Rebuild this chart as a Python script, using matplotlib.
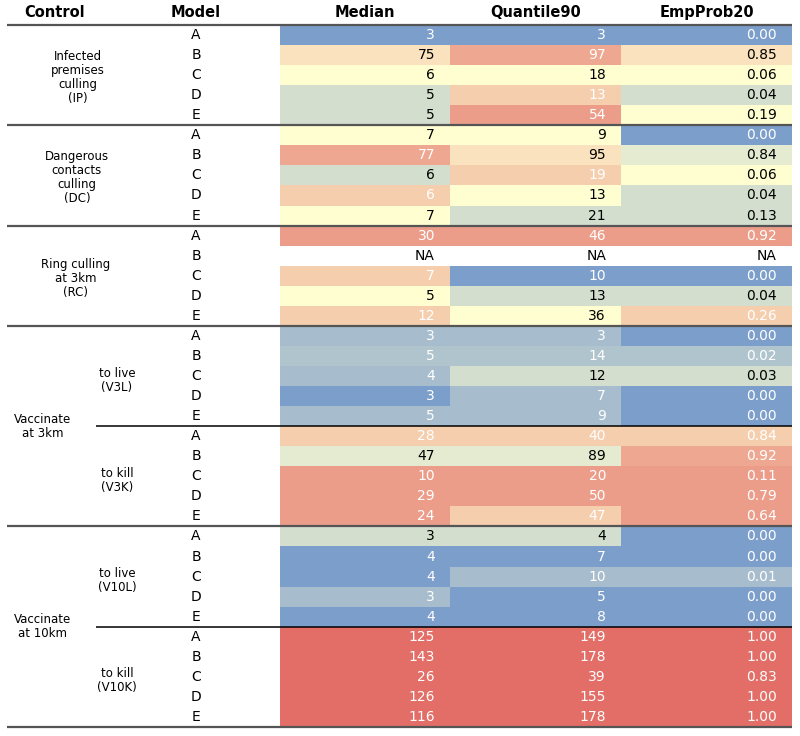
import numpy as np
import pandas as pd
import matplotlib
matplotlib.use('Agg')
import matplotlib.pyplot as plt
from matplotlib.colors import LinearSegmentedColormap

nan = np.nan

# row order: IP, DC, RC, V3L, V3K, V10L, V10K; models A-E in each
controls = ['IP'] * 5 + ['DC'] * 5 + ['RC'] * 5 + ['V3L'] * 5 + ['V3K'] * 5 + ['V10L'] * 5 + ['V10K'] * 5
models = ['A', 'B', 'C', 'D', 'E'] * 7

median = [3, 75, 6, 5, 5,
          7, 77, 6, 6, 7,
          30, nan, 7, 5, 12,
          3, 5, 4, 3, 5,
          28, 47, 10, 29, 24,
          3, 4, 4, 3, 4,
          125, 143, 26, 126, 116]
quantile90 = [3, 97, 18, 13, 54,
              9, 95, 19, 13, 21,
              46, nan, 10, 13, 36,
              3, 14, 12, 7, 9,
              40, 89, 20, 50, 47,
              4, 7, 10, 5, 8,
              149, 178, 39, 155, 178]
empprob20 = [0.00, 0.85, 0.06, 0.04, 0.19,
             0.00, 0.84, 0.06, 0.04, 0.13,
             0.92, nan, 0.00, 0.04, 0.26,
             0.00, 0.02, 0.03, 0.00, 0.00,
             0.84, 0.92, 0.11, 0.79, 0.64,
             0.00, 0.00, 0.01, 0.00, 0.00,
             1.00, 1.00, 0.83, 1.00, 1.00]

median_rank = [1, 4, 4, 3, 3,
               4, 5, 3, 5, 4,
               6, nan, 5, 4, 5,
               2, 2, 2, 1, 2,
               5, 3, 6, 6, 6,
               3, 1, 1, 2, 1,
               7, 6, 7, 7, 7]
q90_rank = [1, 5, 4, 5, 6,
            4, 4, 5, 4, 3,
            6, nan, 1, 3, 4,
            2, 2, 3, 2, 2,
            5, 3, 6, 6, 5,
            3, 1, 2, 1, 1,
            7, 6, 7, 7, 7]

df = pd.DataFrame({'control': controls, 'model': models, 'median': median,
                   'q90': quantile90, 'emp': empprob20,
                   'median_rank': median_rank, 'q90_rank': q90_rank})
df['emp_rank'] = df.groupby('model')['emp'].rank(method='min')
n = df.groupby('model')['median'].transform('count')

cmap = LinearSegmentedColormap.from_list('rdylbu', ['#4575b4', '#ffffbf', '#d73027'])

fig = plt.figure(figsize=(8, 7.36), dpi=100)
ax = fig.add_axes([0, 9 / 736, 1, 702 / 736])
ax.set_xlim(0, 800)
ax.set_ylim(34.5, -0.5)
ax.axis('off')

rows = np.arange(len(df))
columns = [('median', 'median_rank', 'Median', 280, 170, '{:.0f}'),
           ('q90', 'q90_rank', 'Quantile90', 450, 171, '{:.0f}'),
           ('emp', 'emp_rank', 'EmpProb20', 621, 171, '{:.2f}')]

for col, rcol, title, left, width, fmt in columns:
    t = (df[rcol] - 1) / (n - 1)
    colors = [cmap(v) if not np.isnan(v) else (1, 1, 1, 0) for v in t]
    ax.barh(rows, width, left=left, height=1.0, color=colors, alpha=0.7, linewidth=0)
    for i in rows:
        val = df[col][i]
        tv = t[i]
        if np.isnan(val):
            txt, tc = 'NA', 'black'
        else:
            txt = fmt.format(val)
            tc = 'white' if (tv < 0.3 or tv > 0.63) else 'black'
        ax.text(left + width - 15, i, txt, ha='right', va='center', fontsize=10, color=tc)
    ax.text(left + width / 2, -1.1, title, ha='center', va='center', fontsize=10.5,
            fontweight='bold', clip_on=False)

ax.text(55, -1.1, 'Control', ha='center', va='center', fontsize=10.5, fontweight='bold', clip_on=False)
ax.text(196, -1.1, 'Model', ha='center', va='center', fontsize=10.5, fontweight='bold', clip_on=False)

for i in rows:
    ax.text(196, i, df['model'][i], ha='center', va='center', fontsize=10)

# control labels
lab = dict(ha='center', va='center', fontsize=8.5, linespacing=1.1)
ax.text(78, 2.1, 'Infected\npremises\nculling\n(IP)', **lab)
ax.text(77, 7.1, 'Dangerous\ncontacts\nculling\n(DC)', **lab)
ax.text(76, 12.15, 'Ring culling\nat 3km\n(RC)', **lab)
ax.text(43, 19.5, 'Vaccinate\nat 3km', **lab)
ax.text(43, 29.5, 'Vaccinate\nat 10km', **lab)
ax.text(117, 17.2, 'to live\n(V3L)', **lab)
ax.text(117, 22.2, 'to kill\n(V3K)', **lab)
ax.text(117, 27.2, 'to live\n(V10L)', **lab)
ax.text(117, 32.2, 'to kill\n(V10K)', **lab)

# separators
ax.hlines([-0.5, 4.5, 9.5, 14.5, 24.5, 34.5], 7, 792, color='#555555', lw=1.6, clip_on=False)
ax.hlines([19.5, 29.5], 96, 792, color='black', lw=1.1, clip_on=False)

fig.savefig('out.png', dpi=100)
